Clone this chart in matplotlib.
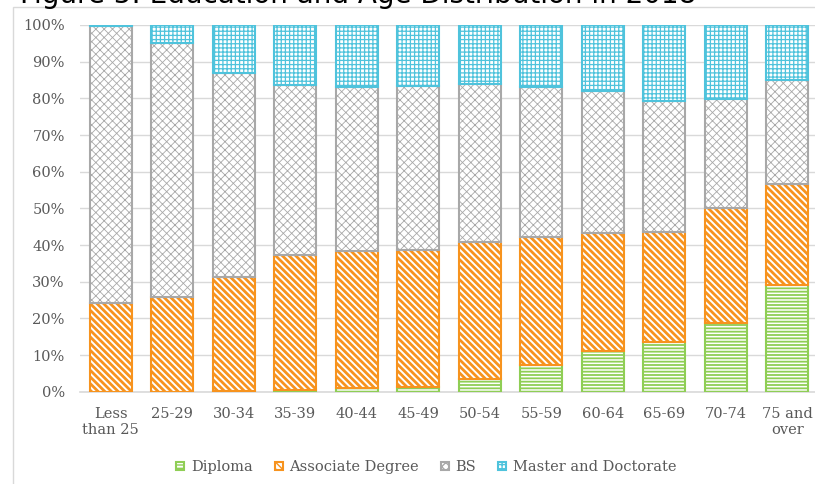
import matplotlib

matplotlib.use("Agg")
import matplotlib.pyplot as plt
import numpy as np
from matplotlib.patches import Rectangle
from matplotlib.ticker import PercentFormatter

# age groups and education share (%)
age_groups = ["Less\nthan 25", "25-29", "30-34", "35-39", "40-44", "45-49",
              "50-54", "55-59", "60-64", "65-69", "70-74", "75 and\nover"]
diploma = [0.0, 0.0, 0.2, 0.5, 1.0, 1.2, 3.4, 7.3, 11.2, 13.6, 18.7, 29.1]
associate = [24.3, 25.8, 31.0, 36.8, 37.5, 37.5, 37.3, 35.0, 32.2, 30.0, 31.3, 27.5]
bs = [75.3, 69.3, 55.8, 46.4, 44.7, 44.7, 43.3, 40.7, 38.5, 35.8, 29.8, 28.4]
master = [0.4, 4.9, 13.0, 16.3, 16.8, 16.6, 16.0, 17.0, 18.1, 20.6, 20.2, 15.0]

# name, values, colour, hatch, hatch line width
series = [
    ("Diploma", diploma, "#8fce55", "-----", 1.3),
    ("Associate Degree", associate, "#f7931e", "\\\\\\\\\\", 2.0),
    ("BS", bs, "#a8a8a8", "xxxx", 0.6),
    ("Master and Doctorate", master, "#4fc3dc", "++++", 0.9),
]

TEXT = "#595959"
GRID = "#d9d9d9"

plt.rcParams["font.family"] = ["DejaVu Serif"]

fig = plt.figure(figsize=(8.15, 4.84), dpi=100)
ax = fig.add_axes([80 / 815, 92.3 / 484, 738 / 815, 366.7 / 484])

# outer chart frame, partly cut off like the original screenshot
fig.patches.append(Rectangle((13 / 815, -0.1), 1.0, (484 - 7) / 484 + 0.1,
                             transform=fig.transFigure, fill=False,
                             edgecolor=GRID, linewidth=1.0))

x = np.arange(len(age_groups))
bottom = np.zeros(len(age_groups))
for name, vals, color, hatch, hlw in series:
    vals = np.array(vals)
    with plt.rc_context({"hatch.linewidth": hlw}):
        ax.bar(x, vals, 0.68, bottom=bottom, facecolor="white", edgecolor=color,
               hatch=hatch, linewidth=1.5, label=name, zorder=3)
    bottom += vals

ax.set_xlim(-0.5, len(age_groups) - 0.5)
ax.set_ylim(0, 100)
ax.set_yticks(np.arange(0, 101, 10))
ax.yaxis.set_major_formatter(PercentFormatter(decimals=0))
ax.set_xticks(x)
ax.set_xticklabels(age_groups)
ax.tick_params(axis="both", length=0, colors=TEXT, labelsize=10.5)
ax.tick_params(axis="y", pad=11)
ax.tick_params(axis="x", pad=11)
ax.grid(axis="y", color=GRID, linewidth=1.0, zorder=0)
for s in ["top", "right", "left"]:
    ax.spines[s].set_visible(False)
ax.spines["bottom"].set_color(GRID)
ax.spines["bottom"].set_linewidth(1.2)

fig.legend(loc="center", bbox_to_anchor=(0.523, 0.035), ncol=4, frameon=False,
           fontsize=10.5, labelcolor=TEXT, handlelength=0.55, handleheight=0.55,
           handletextpad=0.45, columnspacing=1.5)

fig.text(20 / 815, 1 - 3 / 484, "Figure 5: Education and Age Distribution in 2018",
         fontsize=20, family="DejaVu Sans", va="baseline", ha="left", color="black")

fig.savefig("out.png", dpi=100)
